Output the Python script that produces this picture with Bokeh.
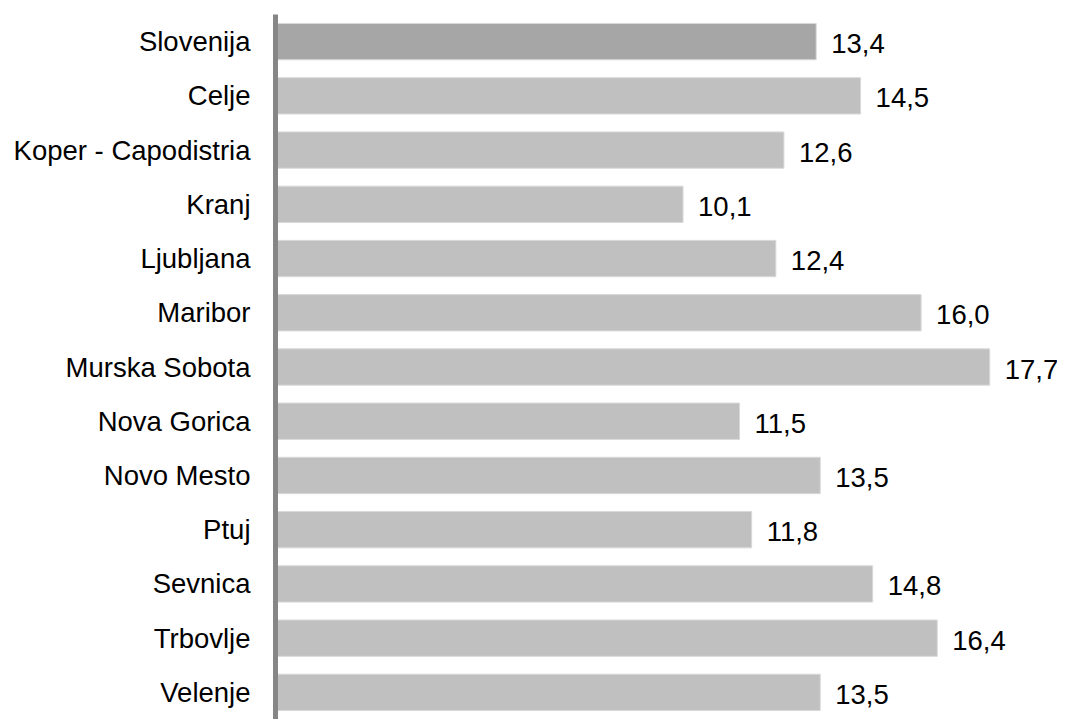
from bokeh.plotting import figure
from bokeh.models import ColumnDataSource, Range1d, FactorRange
from bokeh.embed import file_html
from bokeh.resources import INLINE
from bokeh.core.properties import value

regions = ["Slovenija", "Celje", "Koper - Capodistria", "Kranj", "Ljubljana",
           "Maribor", "Murska Sobota", "Nova Gorica", "Novo Mesto", "Ptuj",
           "Sevnica", "Trbovlje", "Velenje"]
values = [13.4, 14.5, 12.6, 10.1, 12.4, 16.0, 17.7, 11.5, 13.5, 11.8, 14.8, 16.4, 13.5]
colors = ["#a6a6a6"] + ["#c0c0c0"] * (len(regions) - 1)
labels = [f"{v:.1f}".replace(".", ",") for v in values]

src = ColumnDataSource(dict(region=regions, val=values, color=colors, label=labels))

FONT = "Liberation Sans"

p = figure(width=1057, height=719, output_backend="svg", toolbar_location=None,
           y_range=FactorRange(factors=list(reversed(regions)), range_padding=0),
           x_range=Range1d(0, 19.38))
p.min_border_left = 275
p.min_border_right = 0
p.min_border_top = 14
p.min_border_bottom = 0
p.outline_line_color = None
p.background_fill_color = "white"
p.border_fill_color = "white"
p.grid.visible = False

p.hbar(y="region", right="val", left=0, height=0.67, source=src,
       fill_color="color", line_color="#d9d9d9", line_width=1)

p.text(x="val", y="region", text="label", source=src,
       x_offset=15, y_offset=2, text_baseline="middle", text_align="left",
       text_font=value(FONT), text_font_size="27.5px", text_color="#000000")

p.xaxis.visible = False
ya = p.yaxis[0]
ya.axis_line_color = "#868686"
ya.axis_line_width = 5
ya.major_tick_line_color = None
ya.minor_tick_line_color = None
ya.major_tick_out = 0
ya.major_tick_in = 0
ya.major_label_standoff = 25
ya.major_label_text_font = FONT
ya.major_label_text_font_size = "27.5px"
ya.major_label_text_color = "#000000"

open("out.html", "w").write(file_html(p, INLINE))
